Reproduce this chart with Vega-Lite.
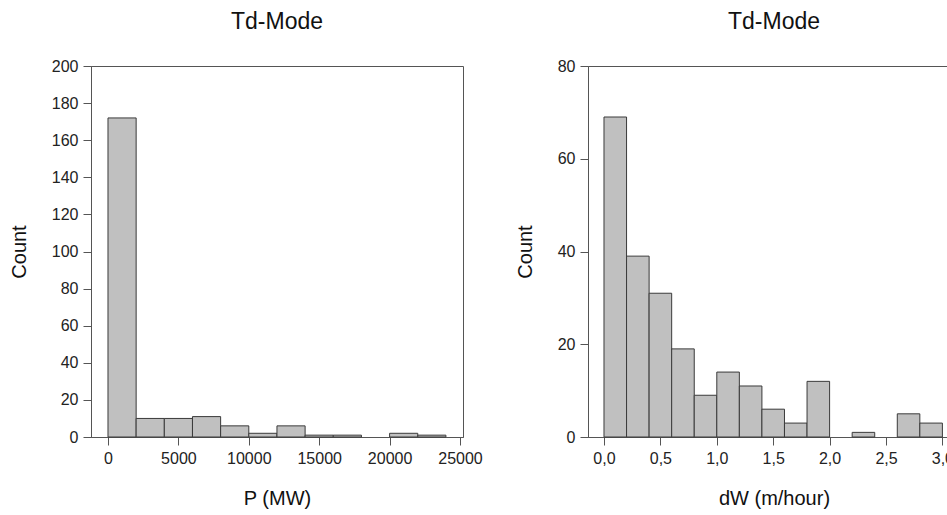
{
  "$schema": "https://vega.github.io/schema/vega-lite/v6.json",
  "padding": {"left": 8, "top": 10, "right": -13, "bottom": 0},
  "background": "white",
  "datasets": {
    "power": [
      {"bin_start": 0, "bin_end": 2000, "count": 172},
      {"bin_start": 2000, "bin_end": 4000, "count": 10},
      {"bin_start": 4000, "bin_end": 6000, "count": 10},
      {"bin_start": 6000, "bin_end": 8000, "count": 11},
      {"bin_start": 8000, "bin_end": 10000, "count": 6},
      {"bin_start": 10000, "bin_end": 12000, "count": 2},
      {"bin_start": 12000, "bin_end": 14000, "count": 6},
      {"bin_start": 14000, "bin_end": 16000, "count": 1},
      {"bin_start": 16000, "bin_end": 18000, "count": 1},
      {"bin_start": 20000, "bin_end": 22000, "count": 2},
      {"bin_start": 22000, "bin_end": 24000, "count": 1}
    ],
    "dw": [
      {"bin_start": 0.0, "bin_end": 0.2, "count": 69},
      {"bin_start": 0.2, "bin_end": 0.4, "count": 39},
      {"bin_start": 0.4, "bin_end": 0.6, "count": 31},
      {"bin_start": 0.6, "bin_end": 0.8, "count": 19},
      {"bin_start": 0.8, "bin_end": 1.0, "count": 9},
      {"bin_start": 1.0, "bin_end": 1.2, "count": 14},
      {"bin_start": 1.2, "bin_end": 1.4, "count": 11},
      {"bin_start": 1.4, "bin_end": 1.6, "count": 6},
      {"bin_start": 1.6, "bin_end": 1.8, "count": 3},
      {"bin_start": 1.8, "bin_end": 2.0, "count": 12},
      {"bin_start": 2.2, "bin_end": 2.4, "count": 1},
      {"bin_start": 2.6, "bin_end": 2.8, "count": 5},
      {"bin_start": 2.8, "bin_end": 3.0, "count": 3}
    ]
  },
  "hconcat": [
    {
      "title": {"text": "Td-Mode"},
      "width": 372,
      "height": 371,
      "data": {"name": "power"},
      "mark": {"type": "bar", "fill": "#c0c0c0", "stroke": "#3a3a3a", "strokeWidth": 1},
      "encoding": {
        "x": {
          "field": "bin_start", "type": "quantitative",
          "scale": {"domain": [-1207, 25213], "nice": false, "zero": false},
          "axis": {"title": "P (MW)", "values": [0, 5000, 10000, 15000, 20000, 25000], "format": "d"}
        },
        "x2": {"field": "bin_end"},
        "y": {
          "field": "count", "type": "quantitative",
          "scale": {"domain": [0, 200], "nice": false},
          "axis": {"title": "Count", "values": [0, 20, 40, 60, 80, 100, 120, 140, 160, 180, 200]}
        },
        "y2": {"datum": 0}
      }
    },
    {
      "title": {"text": "Td-Mode"},
      "width": 372,
      "height": 371,
      "data": {"name": "dw"},
      "mark": {"type": "bar", "fill": "#c0c0c0", "stroke": "#3a3a3a", "strokeWidth": 1},
      "encoding": {
        "x": {
          "field": "bin_start", "type": "quantitative",
          "scale": {"domain": [-0.1418, 3.156], "nice": false, "zero": false},
          "axis": {"title": "dW (m/hour)", "values": [0, 0.5, 1, 1.5, 2, 2.5, 3], "labelExpr": "replace(format(datum.value, '.1f'), '.', ',')"}
        },
        "x2": {"field": "bin_end"},
        "y": {
          "field": "count", "type": "quantitative",
          "scale": {"domain": [0, 80], "nice": false},
          "axis": {"title": "Count", "values": [0, 20, 40, 60, 80]}
        },
        "y2": {"datum": 0}
      }
    }
  ],
  "spacing": 125,
  "bounds": "flush",
  "config": {
    "font": "Liberation Sans",
    "view": {"stroke": "#555555", "strokeWidth": 1},
    "title": {"fontSize": 23, "fontWeight": "normal", "color": "#111111", "anchor": "middle", "offset": 24},
    "axis": {
      "grid": false,
      "domainColor": "#555555",
      "tickColor": "#555555",
      "tickSize": 8,
      "labelFontSize": 16,
      "labelColor": "#222222",
      "labelPadding": 5,
      "titleFontSize": 20,
      "titleFontWeight": "normal",
      "titleColor": "#111111",
      "titlePadding": 22
    }
  }
}
